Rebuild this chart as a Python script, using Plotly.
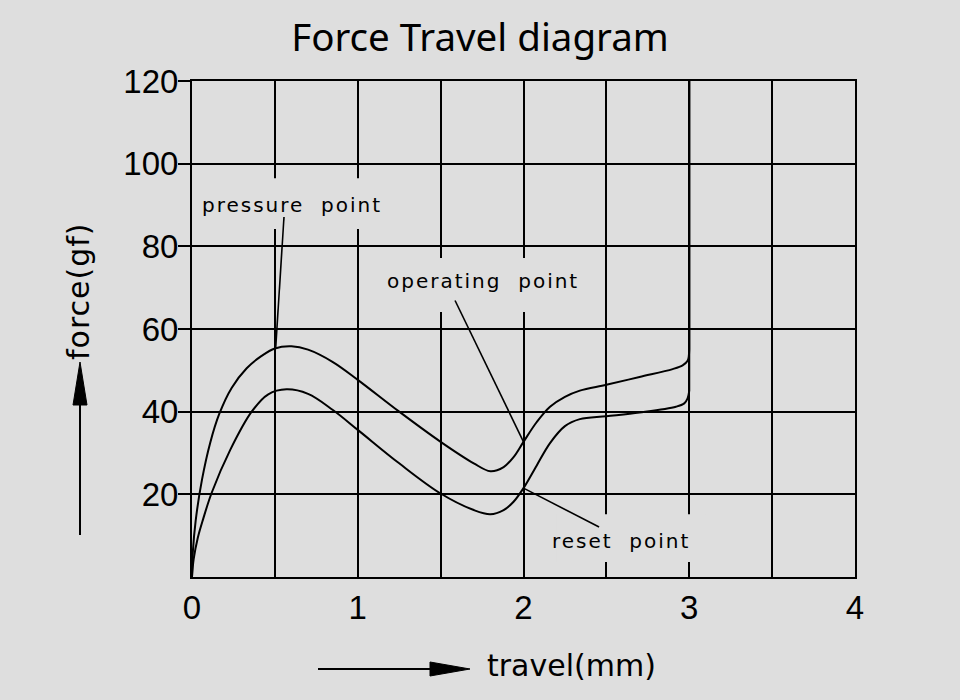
import plotly.graph_objects as go

# ---- data ----
press_x = [0.0, 0.005, 0.022, 0.06, 0.11, 0.165, 0.24, 0.33, 0.42, 0.5, 0.6, 0.7, 0.85,
           1.0, 1.25, 1.5, 1.7, 1.8, 1.88, 1.94, 2.0, 2.08, 2.16, 2.25, 2.34, 2.5, 2.7, 2.9,
           2.96, 2.99, 3.0, 3.0]
press_y = [0, 6, 13.6, 23.5, 32.5, 39.5, 45.8, 50.5, 53.5, 55.3, 55.8, 55, 52,
           47.7, 40, 32.7, 27.5, 25.6, 26.6, 29, 32.7, 37.5, 41.2, 43.6, 45.1, 46.5, 48.4, 50.3,
           51.2, 52.3, 55, 120]

release_x = [0.0, 0.01, 0.035, 0.067, 0.12, 0.23, 0.36, 0.46, 0.57, 0.7,
             0.85, 1.0, 1.25, 1.5, 1.7, 1.8, 1.88, 1.94, 2.0, 2.08, 2.16, 2.25, 2.34, 2.5,
             2.7, 2.92, 2.97, 2.99, 3.0, 3.0]
release_y = [0, 4.3, 9.5, 14, 20.5, 30.7, 40, 44.2, 45.4, 44.3,
             40.4, 35.6, 27.5, 20.2, 16.2, 15.2, 16.2, 18.2, 21.5, 27, 32.4, 36.5, 38.2, 38.9,
             39.8, 41.2, 42.0, 43.2, 45, 120]

x_ticks = [0, 1, 2, 3, 4]
y_ticks = [20, 40, 60, 80, 100, 120]

labels = ["pressure\u00a0 point", "operating\u00a0 point", "reset\u00a0 point"]
label_x = [0.603, 1.753, 2.591]
label_y = [90.0, 71.5, 8.7]
# leader lines: (x0, y0) text end -> (x1, y1) point on curve
leader_x0 = [0.555, 1.587, 2.456]
leader_y0 = [87.1, 66.9, 12.1]
leader_x1 = [0.505, 2.0, 2.0]
leader_y1 = [55.5, 32.7, 21.5]
# masks behind labels (break the grid lines)
mask_x0 = [0.1, 1.2, 2.2]
mask_x1 = [1.15, 2.35, 3.1]
mask_y0 = [84.2, 64.1, 3.6]
mask_y1 = [96.5, 77.2, 15.2]

BG = "#dedede"
W, H = 960, 700
L, R, T, B = 192, 105, 81, 123
PW, PH = W - L - R, H - T - B


def px(xp):
    return (xp - L) / PW


def py(yp):
    return (H - B - yp) / PH


fig = go.Figure()
for cx, cy in ((press_x, press_y), (release_x, release_y)):
    # smooth curve up to the end of travel, then the straight vertical wall at 3 mm
    fig.add_trace(go.Scatter(x=cx[:-1], y=cy[:-1], mode="lines",
                             line=dict(color="black", width=2, shape="spline", smoothing=1.0),
                             showlegend=False, hoverinfo="skip"))
    fig.add_trace(go.Scatter(x=cx[-2:], y=cy[-2:], mode="lines",
                             line=dict(color="black", width=2),
                             showlegend=False, hoverinfo="skip"))

shapes = []
for i in range(3):
    shapes.append(dict(type="rect", xref="x", yref="y", x0=mask_x0[i], x1=mask_x1[i],
                       y0=mask_y0[i], y1=mask_y1[i], fillcolor=BG, line=dict(width=0),
                       layer="between"))
    shapes.append(dict(type="line", xref="x", yref="y", x0=leader_x0[i], y0=leader_y0[i],
                       x1=leader_x1[i], y1=leader_y1[i], line=dict(color="black", width=1.6),
                       layer="above"))

# axis direction arrows (paper coordinates from pixel positions)
shapes.append(dict(type="line", xref="paper", yref="paper", x0=px(80), x1=px(80),
                   y0=py(535), y1=py(400), line=dict(color="black", width=2)))
shapes.append(dict(type="path", xref="paper", yref="paper",
                   path=f"M {px(80)} {py(362)} L {px(73)} {py(405)} L {px(87)} {py(405)} Z",
                   fillcolor="black", line=dict(color="black", width=1)))
shapes.append(dict(type="line", xref="paper", yref="paper", x0=px(318), x1=px(432),
                   y0=py(669), y1=py(669), line=dict(color="black", width=2)))
shapes.append(dict(type="path", xref="paper", yref="paper",
                   path=f"M {px(470)} {py(669)} L {px(430)} {py(662)} L {px(430)} {py(676)} Z",
                   fillcolor="black", line=dict(color="black", width=1)))

LABEL_FONT = dict(family="DejaVu Sans", size=20, color="black")
annotations = []
for i in range(3):
    annotations.append(dict(x=label_x[i], y=label_y[i], xref="x", yref="y",
                            text=f"<span style='letter-spacing:2px'>{labels[i]}</span>",
                            showarrow=False, font=LABEL_FONT,
                            xanchor="center", yanchor="middle"))

AXT_FONT = dict(family="DejaVu Sans", size=30, color="black")
annotations.append(dict(x=px(571), y=py(665), xref="paper", yref="paper",
                        text="travel(mm)", showarrow=False, font=AXT_FONT,
                        xanchor="center", yanchor="middle"))
annotations.append(dict(x=px(78), y=py(291), xref="paper", yref="paper",
                        text="<span style='letter-spacing:1px'>force(gf)</span>",
                        showarrow=False, textangle=-90, font=AXT_FONT,
                        xanchor="center", yanchor="middle"))

fig.update_layout(
    width=W, height=H,
    margin=dict(l=L, r=R, t=T, b=B, pad=0),
    paper_bgcolor=BG, plot_bgcolor=BG,
    title=dict(text="Force Travel diagram", x=0.5, xref="container", xanchor="center",
               y=1 - 38 / H, yref="container", yanchor="middle",
               font=dict(family="Noto Sans", size=38.5, color="black")),
    shapes=shapes,
    annotations=annotations,
    xaxis=dict(range=[0, 4], tickvals=x_ticks, ticktext=[str(v) for v in x_ticks],
               showgrid=True, gridcolor="black", gridwidth=2,
               minor=dict(dtick=0.5, showgrid=True, gridcolor="black", gridwidth=2),
               showline=True, mirror=True, linecolor="black", linewidth=2,
               ticks="", ticklabelstandoff=0, zeroline=False,
               tickfont=dict(family="Liberation Sans Narrow, Liberation Sans", size=33,
                             color="black")),
    yaxis=dict(range=[0, 120], tickvals=y_ticks, ticktext=[str(v) for v in y_ticks],
               showgrid=True, gridcolor="black", gridwidth=2,
               showline=True, mirror=True, linecolor="black", linewidth=2,
               ticks="outside", ticklen=12, tickwidth=2, tickcolor="black",
               zeroline=False, ticklabelstandoff=-7,
               tickfont=dict(family="Liberation Sans, Arial", size=33, color="black")),
)

fig.write_html("out.html",
               config={"displayModeBar": False},
               post_script="document.body.style.margin='0';"
                           "document.body.style.overflow='hidden';"
                           "document.body.style.background='" + BG + "';")
